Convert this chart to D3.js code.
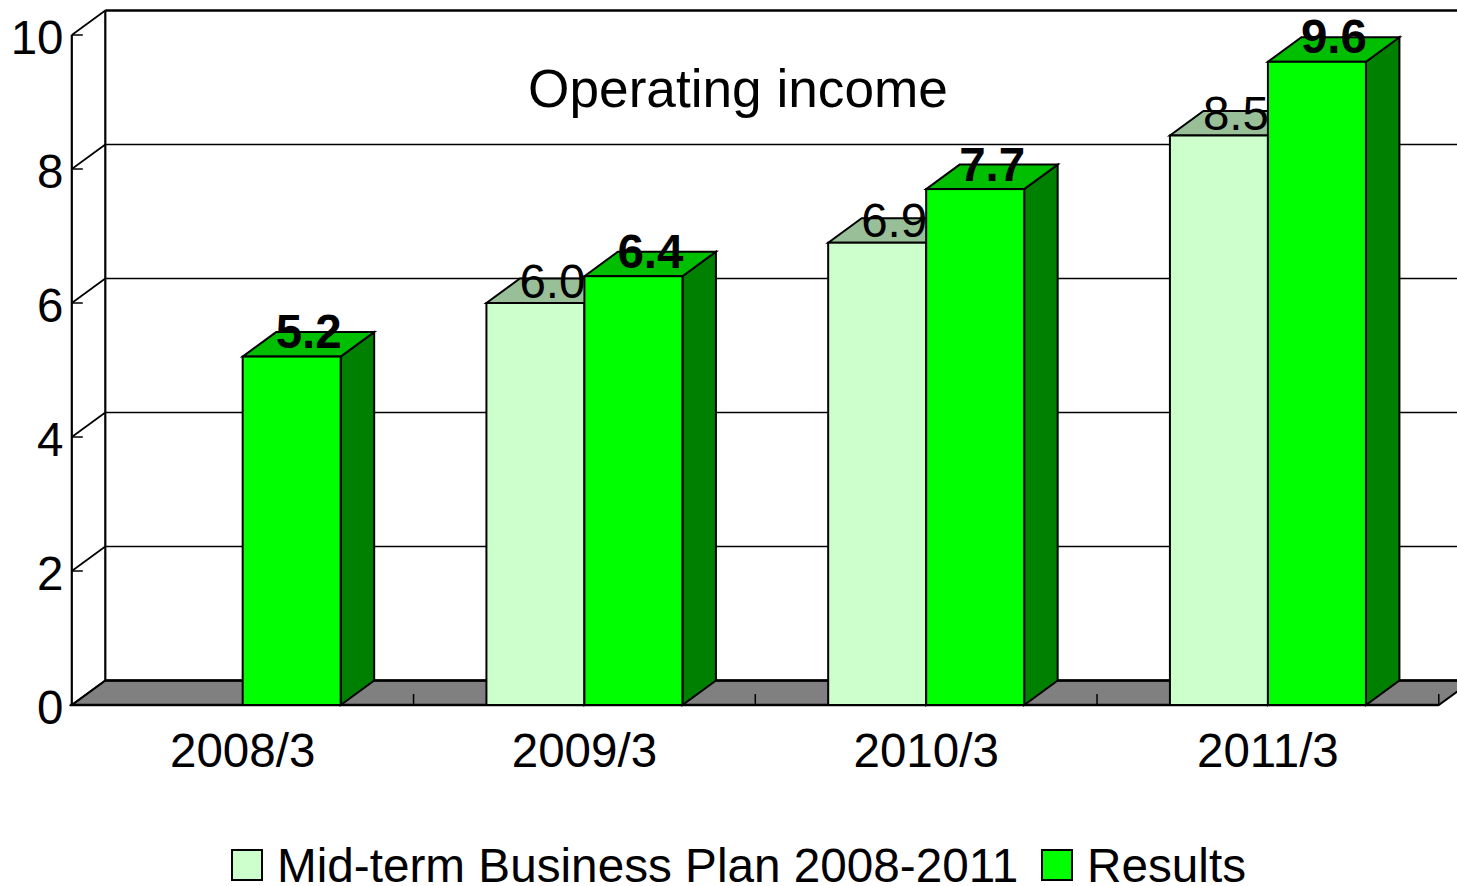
<!DOCTYPE html>
<html>
<head>
<meta charset="utf-8">
<script src="https://cdn.jsdelivr.net/npm/d3@7"></script>
<style>
  html, body { margin: 0; padding: 0; background: #fff; }
  svg { display: block; }
  text { font-family: "Liberation Sans", Arial, sans-serif; fill: #000; }
</style>
</head>
<body>
<svg id="chart" width="1457" height="886"></svg>
<script>
const categories = ["2008/3", "2009/3", "2010/3", "2011/3"];
const planValues = [null, 6.0, 6.9, 8.5];
const resultValues = [5.2, 6.4, 7.7, 9.6];
const yTicks = [0, 2, 4, 6, 8, 10];
const seriesNames = ["Mid-term Business Plan 2008-2011", "Results"];
const chartTitle = "Operating income";

const width = 1457, height = 886;
const depthX = 33.5, depthY = 24.5;   // oblique offset of the back wall
const barWidth = 98;

const svg = d3.select("#chart");
const x = d3.scaleBand().domain(categories).range([71.8, 1438.8]);
const y = d3.scaleLinear().domain([0, 10]).range([705, 35]);
const xEdges = categories.map(c => x(c)).concat(x.range()[1]);
const line = d3.line();

const colors = {
  plan:   { front: "#ccffcc", top: "#99bf99", side: "#669966" },
  result: { front: "#00ff00", top: "#00bf00", side: "#008000" }
};

const clip = svg.append("defs").append("clipPath").attr("id", "page");
clip.append("rect").attr("width", width).attr("height", height);
const g = svg.append("g").attr("clip-path", "url(#page)");

// Floor of the 3D box
g.append("path")
  .attr("d", line([[x.range()[0], y(0)], [x.range()[1], y(0)],
                   [x.range()[1] + depthX, y(0) - depthY], [x.range()[0] + depthX, y(0) - depthY]]) + "Z")
  .attr("fill", "#808080").attr("stroke", "#000").attr("stroke-width", 2);

// Back wall gridlines and side wall diagonals
g.selectAll("line.grid").data(yTicks).join("line")
  .attr("class", "grid")
  .attr("x1", x.range()[0] + depthX).attr("x2", width + 5)
  .attr("y1", d => y(d) - depthY).attr("y2", d => y(d) - depthY)
  .attr("stroke", "#000")
  .attr("stroke-width", d => (d === 0 || d === 10) ? 2.6 : 1.7);

g.selectAll("line.diag").data(yTicks).join("line")
  .attr("class", "diag")
  .attr("x1", x.range()[0]).attr("y1", d => y(d))
  .attr("x2", x.range()[0] + depthX).attr("y2", d => y(d) - depthY)
  .attr("stroke", "#000").attr("stroke-width", 1.7);

// Vertical edges of the walls
g.append("line")
  .attr("x1", x.range()[0] + depthX).attr("x2", x.range()[0] + depthX)
  .attr("y1", y(10) - depthY).attr("y2", y(0) - depthY)
  .attr("stroke", "#000").attr("stroke-width", 2.2);
g.append("line")
  .attr("x1", x.range()[0]).attr("x2", x.range()[0])
  .attr("y1", y(10)).attr("y2", y(0))
  .attr("stroke", "#000").attr("stroke-width", 2.2);

// Tick marks on both axes
g.selectAll("line.ytick").data(yTicks).join("line")
  .attr("class", "ytick")
  .attr("x1", x.range()[0]).attr("x2", x.range()[0] + 11)
  .attr("y1", d => y(d)).attr("y2", d => y(d))
  .attr("stroke", "#000").attr("stroke-width", 1.5);
g.selectAll("line.xtick").data(xEdges.slice(1)).join("line")
  .attr("class", "xtick")
  .attr("x1", d => d).attr("x2", d => d)
  .attr("y1", y(0)).attr("y2", y(0) - 11)
  .attr("stroke", "#000").attr("stroke-width", 1.5);

// Front axis line
g.append("line")
  .attr("x1", x.range()[0] - 2).attr("x2", x.range()[1])
  .attr("y1", y(0)).attr("y2", y(0))
  .attr("stroke", "#000").attr("stroke-width", 2.4);

// One 3D bar: side and top faces first, front face last
function drawBar(x0, value, palette) {
  const x1 = x0 + barWidth, yTop = y(value), yBase = y(0);
  const bar = g.append("g").attr("stroke", "#000").attr("stroke-width", 2).attr("stroke-linejoin", "miter");
  bar.append("path").attr("fill", palette.side)
    .attr("d", line([[x1, yTop], [x1 + depthX, yTop - depthY], [x1 + depthX, yBase - depthY], [x1, yBase]]) + "Z");
  bar.append("path").attr("fill", palette.top)
    .attr("d", line([[x0, yTop], [x0 + depthX, yTop - depthY], [x1 + depthX, yTop - depthY], [x1, yTop]]) + "Z");
  bar.append("rect").attr("fill", palette.front)
    .attr("x", x0).attr("y", yTop).attr("width", barWidth).attr("height", yBase - yTop);
}

const center = c => x(c) + x.bandwidth() / 2;

categories.forEach((c, i) => {
  if (planValues[i] !== null) drawBar(center(c) - barWidth, planValues[i], colors.plan);
  drawBar(center(c), resultValues[i], colors.result);
});

// Value labels
const labelFont = 47.5;
categories.forEach((c, i) => {
  if (planValues[i] !== null) {
    g.append("text")
      .attr("x", center(c) - barWidth / 2 + 17).attr("y", y(planValues[i]) - 5.5)
      .attr("text-anchor", "middle").attr("font-size", labelFont)
      .text(planValues[i].toFixed(1));
  }
  g.append("text")
    .attr("x", center(c) + barWidth / 2 + 17).attr("y", y(resultValues[i]) - 8.5)
    .attr("text-anchor", "middle").attr("font-size", labelFont).attr("font-weight", "bold")
    .text(resultValues[i].toFixed(1));
});

// Axis labels
g.selectAll("text.ylabel").data(yTicks).join("text")
  .attr("class", "ylabel")
  .attr("x", 63.5).attr("y", d => y(d) + 19)
  .attr("text-anchor", "end").attr("font-size", labelFont)
  .text(d => d);
g.selectAll("text.xlabel").data(categories).join("text")
  .attr("class", "xlabel")
  .attr("x", center).attr("y", 766.5)
  .attr("text-anchor", "middle").attr("font-size", labelFont)
  .text(d => d);

// Title inside the plot
g.append("text")
  .attr("x", 738).attr("y", 106.5)
  .attr("text-anchor", "middle").attr("font-size", 53.2)
  .text(chartTitle);

// Legend
const legend = [
  { name: seriesNames[0], fill: colors.plan.front, boxX: 232, textX: 277 },
  { name: seriesNames[1], fill: colors.result.front, boxX: 1042, textX: 1087 }
];
const legendItems = g.selectAll("g.legend").data(legend).join("g").attr("class", "legend");
legendItems.append("rect")
  .attr("x", d => d.boxX).attr("y", 850).attr("width", 30).attr("height", 30)
  .attr("fill", d => d.fill).attr("stroke", "#000").attr("stroke-width", 2);
legendItems.append("text")
  .attr("x", d => d.textX).attr("y", 882)
  .attr("font-size", 47.7)
  .text(d => d.name);
</script>
</body>
</html>
